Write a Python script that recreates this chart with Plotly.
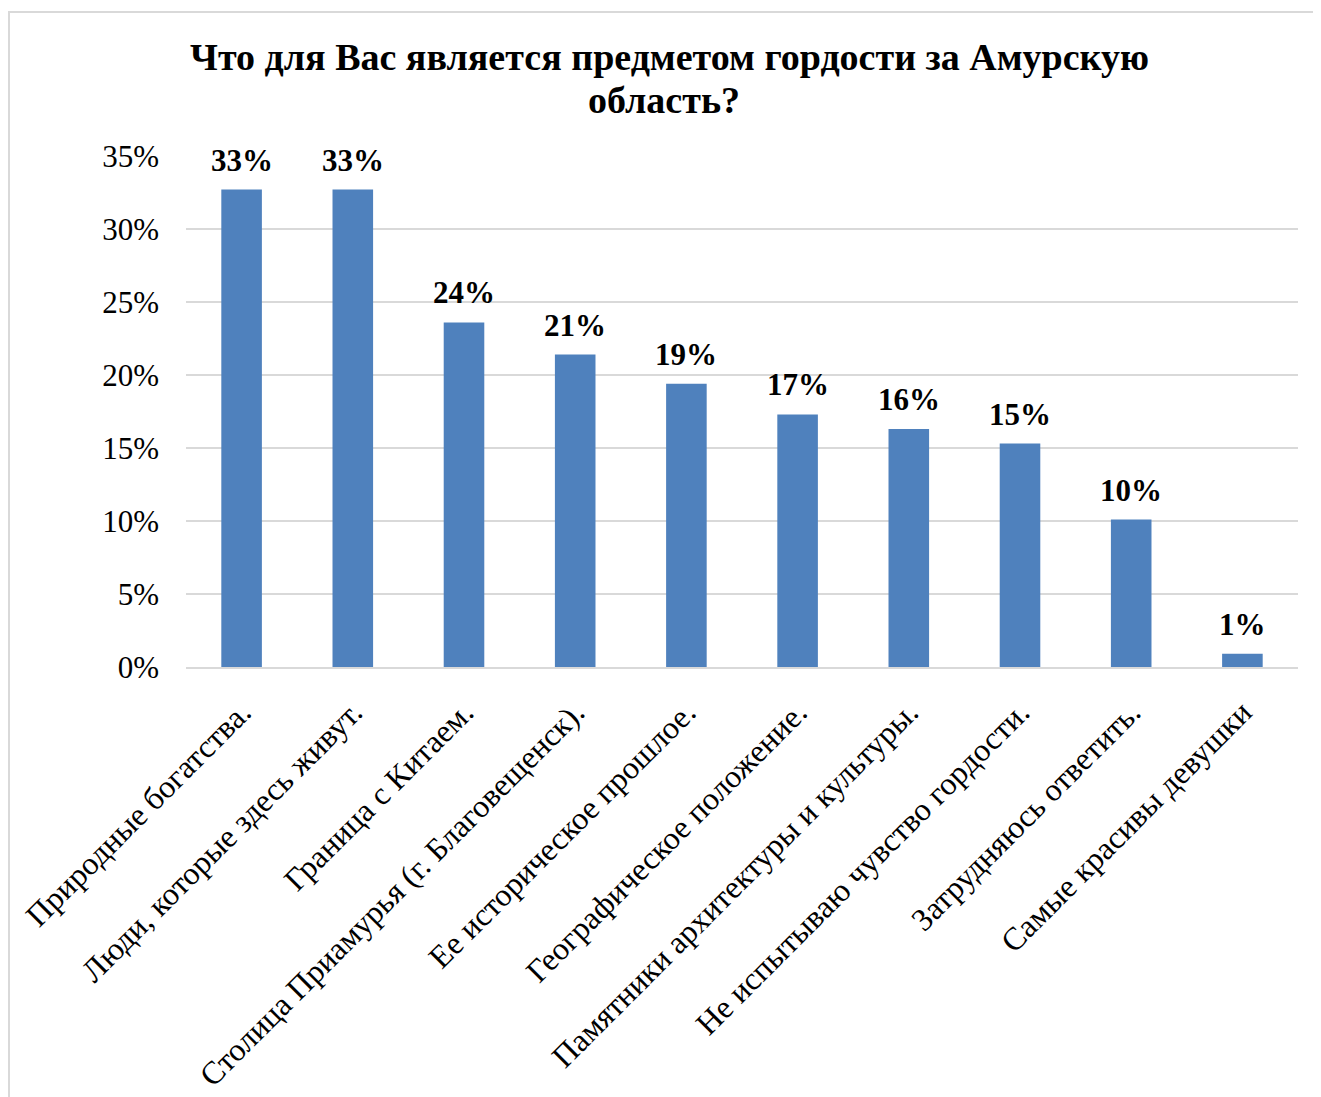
import plotly.graph_objects as go

categories = [
    "Природные богатства.",
    "Люди, которые здесь живут.",
    "Граница с Китаем.",
    "Столица Приамурья (г. Благовещенск).",
    "Ее историческое прошлое.",
    "Географическое положение.",
    "Памятники архитектуры и культуры.",
    "Не испытываю чувство гордости.",
    "Затрудняюсь ответить.",
    "Самые красивы девушки",
]
values = [0.327, 0.327, 0.236, 0.214, 0.194, 0.173, 0.163, 0.153, 0.101, 0.009]
tick_vals = [0, 0.05, 0.10, 0.15, 0.20, 0.25, 0.30, 0.35]

title_lines = ["Что для Вас является предметом гордости за Амурскую", "область?"]

W, H = 1321, 1097
L, T = 178, 148
pw, ph = 1112, 511
R, B = W - L - pw, H - T - ph

SERIF = "Liberation Serif, Times New Roman, serif"

fig = go.Figure()
fig.add_trace(go.Bar(
    x=categories, y=values,
    marker=dict(color="#4F81BD", line=dict(width=0)),
    hoverinfo="x+y",
))

for c, v in zip(categories, values):
    fig.add_annotation(
        x=c, y=v, text=f"<b>{round(v*100):.0f}%</b>", showarrow=False,
        yanchor="bottom", yshift=10,
        font=dict(family=SERIF, size=31, color="black"),
    )

# title, two lines
title_pos = [((669 - 186) / pw, (667 - 57) / ph), ((664 - 186) / pw, (667 - 100) / ph)]
for line, (tx, ty) in zip(title_lines, title_pos):
    fig.add_annotation(
        xref="paper", yref="paper", x=tx, y=ty, xanchor="center", yanchor="middle",
        text=f"<b>{line}</b>", showarrow=False,
        font=dict(family=SERIF, size=38, color="black"),
    )

# chart border (top and left visible)
fig.add_shape(type="rect", xref="paper", yref="paper",
              x0=(1 - L) / pw, x1=(W + 20 - L) / pw,
              y0=(T + ph - (H + 20)) / ph, y1=(ph + T - 4) / ph,
              line=dict(color="#D9D9D9", width=2), fillcolor="rgba(0,0,0,0)",
              layer="below")

fig.update_layout(
    width=W, height=H,
    margin=dict(l=L, r=R, t=T, b=B, autoexpand=False),
    paper_bgcolor="white", plot_bgcolor="white",
    bargap=0.635,
    showlegend=False,
    font=dict(family=SERIF, color="black"),
)
fig.update_yaxes(
    range=[0, 0.35], tickvals=tick_vals, tickformat=".0%",
    showgrid=True, gridcolor="#D9D9D9", gridwidth=1.5,
    zeroline=False, showline=False, ticks="",
    tickfont=dict(family=SERIF, size=31, color="black"),
    ticklabelstandoff=26,
)
fig.update_xaxes(
    tickangle=-45, showline=True, linecolor="#D9D9D9", linewidth=1.5,
    ticks="", tickfont=dict(family=SERIF, size=32, color="black"),
    ticklabelstandoff=12,
)

fig.write_html("out.html")
